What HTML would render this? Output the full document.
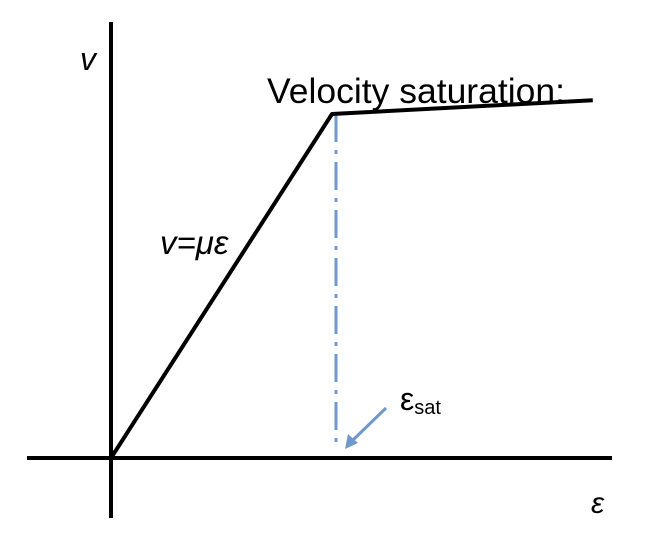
<!DOCTYPE html>
<html><head><meta charset="utf-8"><style>
html,body{margin:0;padding:0;background:#fff;}
svg{display:block;}
text{font-family:"Liberation Sans",sans-serif;}
</style></head><body>
<svg id="chart" width="668" height="536" viewBox="0 0 668 536">
<line x1="111" y1="22" x2="111" y2="518" stroke="#000" stroke-width="4"/>
<line x1="27" y1="458" x2="612" y2="458" stroke="#000" stroke-width="4"/>
<text x="80" y="70" font-size="32" font-style="italic">v</text>
<text x="591" y="513" font-size="30" font-style="italic">ε</text>
<text x="267" y="103" font-size="35.5">Velocity saturation:</text>
<text x="160" y="254" font-size="33" font-style="italic">v=με</text>
<text x="400" y="410" font-size="32">ε<tspan font-size="20" dy="4">sat</tspan></text>
<line x1="386" y1="408" x2="352" y2="441" stroke="#6f98cc" stroke-width="3"/>
<polygon points="345,449 348,434 358,443" fill="#6f98cc"/>
<g id="marks"></g>
</svg>
<script>
// data: field (relative units) vs velocity (relative units)
const fieldValues = [0, 1.0, 2.18];
const velocityValues = [0, 1.0, 1.04];
const satField = 1.0;
const satVelocity = 1.0;

function xScale(v){ return 111 + v * 221; }
function yScale(v){ return 458 - v * 344; }

const g = document.getElementById('marks');
const NS = 'http://www.w3.org/2000/svg';

const dash = document.createElementNS(NS, 'line');
dash.setAttribute('x1', xScale(satField) + 4);
dash.setAttribute('y1', yScale(satVelocity));
dash.setAttribute('x2', xScale(satField) + 4);
dash.setAttribute('y2', yScale(0) - 9);
dash.setAttribute('stroke', '#6f98cc');
dash.setAttribute('stroke-width', '3');
dash.setAttribute('stroke-dasharray', '28 8 4 8');


g.appendChild(dash);

const path = document.createElementNS(NS, 'polyline');
path.setAttribute('points', fieldValues.map((f, i) => xScale(f) + ',' + yScale(velocityValues[i])).join(' '));
path.setAttribute('fill', 'none');
path.setAttribute('stroke', '#000');
path.setAttribute('stroke-width', '4');
path.setAttribute('stroke-linejoin', 'round');


g.appendChild(path);
</script>
</body></html>
